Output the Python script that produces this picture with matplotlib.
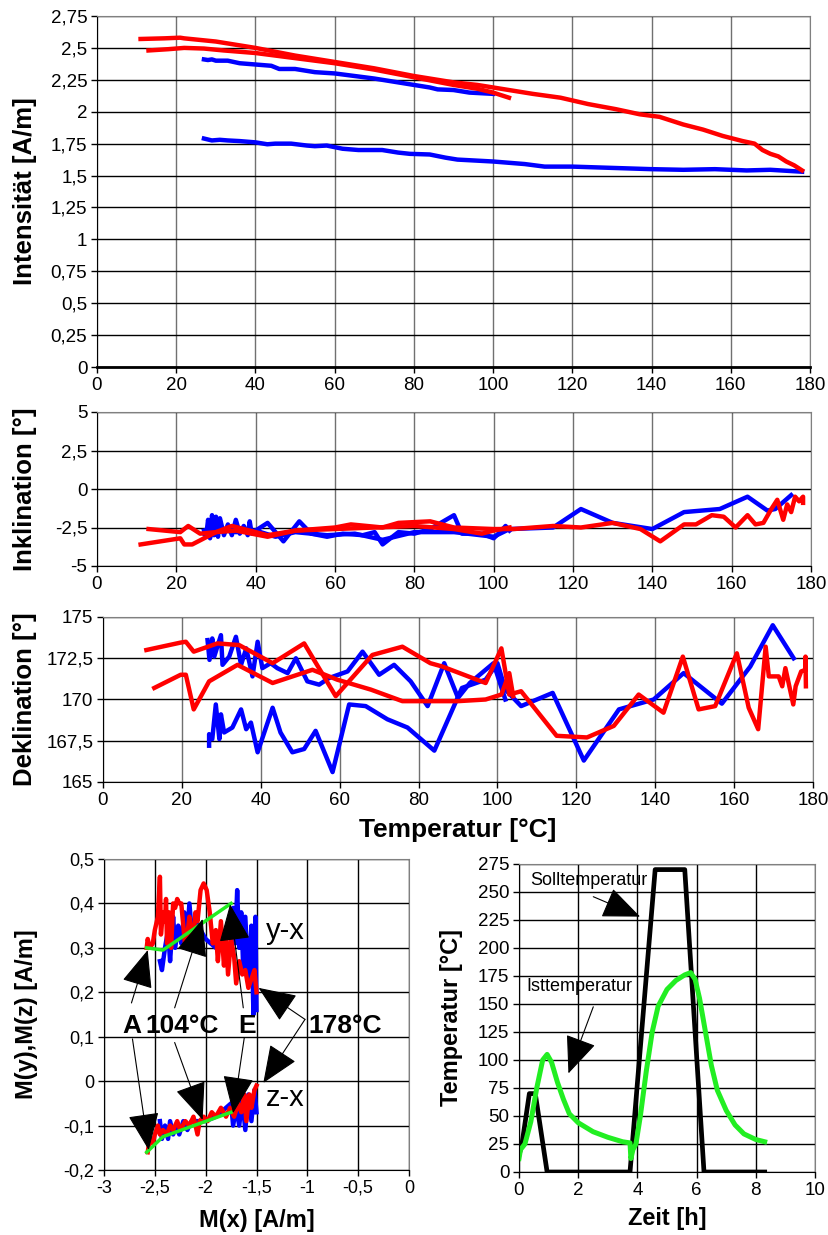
import matplotlib
matplotlib.use("Agg")
import matplotlib.pyplot as plt
from matplotlib.ticker import FuncFormatter, MultipleLocator

# ---- Intensitaet vs Temperatur ----
int_red_a_t = [11, 17, 21, 22, 30, 40, 50, 60, 70, 80, 90, 96, 100, 110, 117, 124, 131, 137,
               142, 148, 153, 158, 163, 166, 168, 170, 172, 174, 176, 178]
int_red_a = [2.57, 2.575, 2.58, 2.575, 2.55, 2.5, 2.44, 2.39, 2.34, 2.28, 2.23, 2.21, 2.19, 2.14,
             2.11, 2.06, 2.02, 1.98, 1.96, 1.9, 1.86, 1.81, 1.77, 1.75, 1.70, 1.67, 1.65, 1.61,
             1.58, 1.54]
int_red_b_t = [13, 18, 22, 27, 32, 40, 50, 60, 70, 80, 90, 96, 100, 104]
int_red_b = [2.48, 2.49, 2.50, 2.495, 2.48, 2.46, 2.42, 2.38, 2.33, 2.27, 2.21, 2.18, 2.15, 2.11]
int_blue_a_t = [27, 28, 29, 30, 33, 36, 40, 44, 46, 50, 53, 55, 60, 65, 70, 74, 80, 84, 86, 90,
                94, 100]
int_blue_a = [2.41, 2.405, 2.41, 2.4, 2.4, 2.38, 2.37, 2.36, 2.335, 2.335, 2.32, 2.31, 2.30, 2.28,
              2.26, 2.24, 2.21, 2.19, 2.175, 2.17, 2.15, 2.14]
int_blue_b_t = [27, 29, 31, 33, 36, 40, 43, 45, 49, 53, 55, 58, 62, 66, 72, 76, 79, 84, 88, 91,
                100, 108, 113, 120, 130, 140, 148, 156, 164, 170, 178]
int_blue_b = [1.79, 1.775, 1.78, 1.775, 1.77, 1.76, 1.745, 1.75, 1.75, 1.735, 1.73, 1.735, 1.71,
              1.70, 1.70, 1.68, 1.67, 1.665, 1.64, 1.625, 1.61, 1.59, 1.57, 1.57, 1.56, 1.55,
              1.545, 1.55, 1.54, 1.545, 1.53]

# ---- Inklination ----
ink_red_a_t = [11, 16, 21, 22, 24, 27, 30, 35, 43, 50, 60, 64, 72, 76, 84, 90, 100, 105, 115,
               122, 130, 137, 142, 148, 151, 155, 158, 161, 164, 166, 168, 170, 171.5, 173, 174,
               175, 176, 177, 178, 178]
ink_red_a = [-3.6, -3.4, -3.2, -3.6, -3.6, -3.2, -2.8, -2.7, -3.1, -2.7, -2.5, -2.3, -2.5, -2.2,
             -2.1, -2.5, -2.6, -2.6, -2.4, -2.5, -2.2, -2.6, -3.4, -2.3, -2.3, -1.7, -1.8, -2.5,
             -1.7, -2.3, -2.2, -1.3, -0.7, -2.0, -1.0, -1.5, -0.5, -0.8, -0.5, -0.9]
ink_red_b_t = [13, 21, 23, 26, 30, 34, 40, 43, 50, 60, 70, 80, 90, 97, 100, 104]
ink_red_b = [-2.6, -2.8, -2.4, -2.9, -2.8, -2.4, -2.8, -3.0, -2.7, -2.6, -2.5, -2.4, -2.6, -2.9,
             -2.7, -2.5]
ink_blue_a_t = [27, 27.5, 28, 28.5, 29, 29.5, 30, 30.5, 31, 32, 33, 34, 35, 36, 37, 38, 38.5,
                39, 40, 43, 47, 51, 54, 58, 62, 67, 70, 72, 76, 80, 84, 90, 92, 97, 100, 102,
                103, 104]
ink_blue_a = [-2.7, -3.1, -2.0, -3.2, -1.7, -3.0, -1.8, -3.1, -1.9, -3.0, -2.3, -3.0, -2.0, -2.9,
              -2.4, -3.0, -2.1, -2.9, -2.7, -2.2, -3.4, -2.1, -2.9, -3.1, -2.9, -3.0, -2.8, -3.6,
              -2.8, -2.9, -2.6, -1.7, -2.9, -2.9, -3.2, -2.7, -2.4, -2.7]
ink_blue_b_t = [27, 30, 35, 40, 45, 50, 58, 65, 72, 80, 90, 100, 104, 115, 122, 130, 140, 148,
                157, 164, 169, 171, 175]
ink_blue_b = [-2.9, -2.6, -2.8, -2.7, -3.1, -2.8, -3.0, -2.9, -3.3, -2.8, -2.8, -3.1, -2.6, -2.5,
              -1.3, -2.2, -2.6, -1.5, -1.3, -0.5, -1.4, -1.3, -0.4]

# ---- Deklination ----
dek_red_a_t = [11, 19.7, 21, 23, 29, 34.5, 43, 51, 59, 68.3, 75.9, 83, 86, 97, 101, 103, 106,
               115, 122.7, 129.5, 135.8, 142.1, 147, 151, 155.2, 160.7, 163.7, 166.1, 168,
               168.8, 171.3, 172.2, 173, 175, 175.6, 177, 178.1, 178.1, 178.2]
dek_red_a = [173.0, 173.45, 173.5, 172.9, 173.4, 173.3, 172.2, 173.4, 170.2, 172.7, 173.2, 172.2,
             172.0, 171.0, 173.1, 170.3, 170.5, 167.8, 167.7, 168.4, 170.3, 169.2, 172.6, 169.4,
             169.6, 172.8, 169.5, 168.2, 173.2, 171.4, 171.4, 170.8, 171.9, 169.7, 170.8, 171.7,
             171.8, 172.6, 170.8]
dek_red_b_t = [13, 19.7, 21, 23, 26.9, 34.1, 43, 53.1, 59.4, 67.9, 75.9, 81.8, 90, 97, 101,
               103, 104]
dek_red_b = [170.7, 171.5, 171.5, 169.4, 171.1, 172.1, 171.0, 171.8, 171.2, 170.6, 169.9, 169.9,
             169.9, 170.0, 170.3, 171.6, 170.2]
dek_blue_a_t = [26.5, 27, 27.7, 28.2, 29.9, 30.3, 32, 33.7, 35, 36.3, 37.9, 39.2, 40.4, 42.5,
                44.2, 46.8, 48.9, 51.8, 54.8, 57.3, 62, 65.8, 70, 73.8, 78, 82.3, 86.5, 90, 93,
                99, 102]
dek_blue_a = [173.6, 172.4, 173.7, 172.6, 173.9, 172.1, 172.6, 173.8, 172.1, 173.1, 171.4, 173.5,
              171.9, 172.2, 171.9, 171.6, 172.5, 171.1, 170.9, 171.3, 171.7, 172.9, 171.5, 172.1,
              171.1, 169.6, 172.2, 170.1, 171.0, 172.2, 170.0]
dek_blue_b_t = [26.9, 26.9, 27.7, 28.6, 29.5, 29.9, 30.7, 32.8, 35, 36.3, 37.5, 39.2, 43, 45, 48,
                51, 53.9, 58.2, 62.4, 66.6, 72.1, 77.2, 84, 91, 97, 100, 102, 106, 114, 121.9,
                130.8, 139.6, 147.2, 156.9, 164.1, 169.8, 175.1]
dek_blue_b = [167.2, 167.9, 167.6, 169.7, 167.6, 169.1, 168.0, 168.3, 169.4, 168.2, 168.6, 166.8,
              169.5, 168.0, 166.8, 167.0, 168.1, 165.6, 169.7, 169.6, 168.8, 168.3, 166.9, 170.7,
              171.2, 172.2, 170.6, 169.6, 170.4, 166.3, 169.4, 170.0, 171.6, 169.75, 172.0,
              174.5, 172.5]

# ---- M(y), M(z) vs M(x) ----
yx_blue_x = [-2.45, -2.43, -2.40, -2.37, -2.35, -2.32, -2.30, -2.27, -2.24, -2.21, -2.19, -2.16,
             -2.13, -2.10, -2.0, -1.9, -1.8, -1.75, -1.73, -1.71, -1.69, -1.67, -1.65, -1.63,
             -1.61, -1.58, -1.55, -1.53, -1.51, -1.50]
yx_blue_y = [0.27, 0.25, 0.30, 0.34, 0.27, 0.37, 0.30, 0.35, 0.31, 0.38, 0.30, 0.40, 0.32, 0.36,
             0.32, 0.30, 0.34, 0.37, 0.39, 0.31, 0.43, 0.30, 0.38, 0.25, 0.37, 0.22, 0.35, 0.15,
             0.37, 0.16]
yx_red_x = [-2.58, -2.57, -2.55, -2.52, -2.50, -2.47, -2.45, -2.44, -2.42, -2.40, -2.39, -2.38,
            -2.36, -2.34, -2.32, -2.30, -2.28, -2.26, -2.24, -2.22, -2.20, -2.18, -2.16, -2.13,
            -2.10, -2.08, -2.05, -2.02, -1.99, -1.96, -1.93, -1.90, -1.88, -1.85, -1.82, -1.80,
            -1.78, -1.75, -1.72, -1.70, -1.67, -1.64, -1.61, -1.58, -1.55, -1.52, -1.50]
yx_red_y = [0.30, 0.32, 0.30, 0.31, 0.34, 0.37, 0.46, 0.33, 0.38, 0.36, 0.41, 0.31, 0.38, 0.30,
            0.40, 0.39, 0.41, 0.40, 0.40, 0.35, 0.30, 0.33, 0.37, 0.30, 0.38, 0.36, 0.43, 0.445,
            0.43, 0.38, 0.31, 0.34, 0.27, 0.36, 0.26, 0.33, 0.24, 0.32, 0.28, 0.22, 0.27, 0.24,
            0.25, 0.21, 0.23, 0.25, 0.20]
zx_blue_x = [-2.45, -2.43, -2.40, -2.37, -2.35, -2.32, -2.29, -2.26, -2.22, -2.18, -2.14, -2.0,
             -1.9, -1.75, -1.73, -1.70, -1.67, -1.64, -1.61, -1.58, -1.55, -1.52, -1.50]
zx_blue_y = [-0.09, -0.13, -0.10, -0.13, -0.09, -0.12, -0.10, -0.12, -0.09, -0.11, -0.09, -0.09,
             -0.08, -0.05, -0.10, -0.06, -0.10, -0.04, -0.11, -0.03, -0.09, -0.02, -0.07]
zx_red_x = [-2.57, -2.55, -2.52, -2.50, -2.47, -2.45, -2.42, -2.38, -2.35, -2.32, -2.28, -2.25,
            -2.20, -2.16, -2.12, -2.08, -2.06, -2.02, -1.98, -1.94, -1.90, -1.85, -1.80, -1.76,
            -1.72, -1.68, -1.65, -1.62, -1.60, -1.57, -1.55, -1.52, -1.50]
zx_red_y = [-0.16, -0.13, -0.14, -0.12, -0.10, -0.12, -0.11, -0.12, -0.10, -0.11, -0.09, -0.11,
            -0.09, -0.10, -0.08, -0.12, -0.09, -0.08, -0.09, -0.07, -0.08, -0.06, -0.08, -0.06,
            -0.08, -0.05, -0.07, -0.03, -0.09, -0.03, -0.06, -0.02, -0.01]
yx_green_x = [-2.58, -2.42, -1.75]
yx_green_y = [0.30, 0.295, 0.40]
zx_green_x = [-2.58, -2.42, -1.75]
zx_green_y = [-0.16, -0.125, -0.07]

# ---- Temperaturverlauf ----
soll_h = [0, 0.1, 0.35, 0.55, 0.95, 3.75, 4.6, 5.6, 6.25, 8.3]
soll_t = [15, 25, 70, 70, 0, 0, 270, 270, 0, 0]
ist_h = [0, 0.05, 0.2, 0.4, 0.6, 0.8, 0.95, 1.1, 1.3, 1.5, 1.7, 2.0, 2.5, 3.0, 3.5, 3.75, 3.78,
         3.85, 3.95, 4.1, 4.3, 4.5, 4.7, 5.0, 5.3, 5.6, 5.8, 5.95, 6.1, 6.3, 6.5, 6.7, 7.0, 7.3,
         7.6, 8.0, 8.3]
ist_t = [12, 20, 25, 45, 75, 100, 105, 98, 80, 65, 52, 44, 36, 31, 27, 26, 12, 20, 25, 50, 90,
         125, 148, 163, 171, 176, 178, 172, 155, 125, 95, 73, 55, 42, 34, 29, 27]

BLUE, RED, GREEN = "#0000ff", "#ff0000", "#22ee22"
NARROW = ["Liberation Sans Narrow", "Liberation Sans", "DejaVu Sans"]
ARIAL = ["Liberation Sans", "DejaVu Sans"]


def comma(v, pos):
    return f"{v:g}".replace(".", ",")


def style(ax, tickfont, fs, vgrid="#707070"):
    ax.xaxis.grid(True, color=vgrid, lw=1.0)
    ax.yaxis.grid(True, color="black", lw=1.0)
    ax.set_axisbelow(True)
    ax.xaxis.set_major_formatter(FuncFormatter(comma))
    ax.yaxis.set_major_formatter(FuncFormatter(comma))
    ax.tick_params(direction="out", length=4, width=1, pad=3)
    for lab in ax.get_xticklabels() + ax.get_yticklabels():
        lab.set_fontfamily(tickfont)
        lab.set_fontsize(fs)
    for sp in ax.spines.values():
        sp.set_color("#808080")
    ax.spines["left"].set_color("black")
    ax.spines["bottom"].set_color("black")


fig = plt.figure(figsize=(8.29, 12.35), dpi=100)
W, H = 829.0, 1235.0


def box(l, r, t, b):
    return [l / W, 1 - b / H, (r - l) / W, (b - t) / H]


lw = 3.2
arrow_style = "-|>,head_length=1.2,head_width=0.5"

# Intensitaet
ax1 = fig.add_axes(box(97, 810, 16, 367))
ax1.plot(int_blue_a_t, int_blue_a, color=BLUE, lw=lw)
ax1.plot(int_blue_b_t, int_blue_b, color=BLUE, lw=lw)
ax1.plot(int_red_a_t, int_red_a, color=RED, lw=lw)
ax1.plot(int_red_b_t, int_red_b, color=RED, lw=lw)
ax1.set_xlim(0, 180)
ax1.set_ylim(0, 2.75)
ax1.xaxis.set_major_locator(MultipleLocator(20))
ax1.yaxis.set_major_locator(MultipleLocator(0.25))
style(ax1, NARROW, 13.5)
ax1.spines["bottom"].set_linewidth(2)
ax1.set_ylabel("Intensität [A/m]", fontsize=18.5, fontweight="bold", family=ARIAL)
ax1.yaxis.set_label_coords(-0.084, 0.5)

# Inklination
ax2 = fig.add_axes(box(97, 811, 412, 566))
ax2.plot(ink_blue_b_t, ink_blue_b, color=BLUE, lw=lw)
ax2.plot(ink_blue_a_t, ink_blue_a, color=BLUE, lw=lw)
ax2.plot(ink_red_b_t, ink_red_b, color=RED, lw=lw)
ax2.plot(ink_red_a_t, ink_red_a, color=RED, lw=lw)
ax2.set_xlim(0, 180)
ax2.set_ylim(-5, 5)
ax2.xaxis.set_major_locator(MultipleLocator(20))
ax2.yaxis.set_major_locator(MultipleLocator(2.5))
style(ax2, NARROW, 13.5)
ax2.set_ylabel("Inklination [°]", fontsize=18.5, fontweight="bold", family=ARIAL)
ax2.yaxis.set_label_coords(-0.084, 0.5)

# Deklination
ax3 = fig.add_axes(box(103, 813, 617, 782))
ax3.plot(dek_blue_a_t, dek_blue_a, color=BLUE, lw=lw)
ax3.plot(dek_blue_b_t, dek_blue_b, color=BLUE, lw=lw)
ax3.plot(dek_red_b_t, dek_red_b, color=RED, lw=lw)
ax3.plot(dek_red_a_t, dek_red_a, color=RED, lw=lw)
ax3.set_xlim(0, 180)
ax3.set_ylim(165, 175)
ax3.xaxis.set_major_locator(MultipleLocator(20))
ax3.yaxis.set_major_locator(MultipleLocator(2.5))
style(ax3, NARROW, 13.5)
ax3.set_ylabel("Deklination [°]", fontsize=18.5, fontweight="bold", family=ARIAL)
ax3.yaxis.set_label_coords(-0.093, 0.5)
ax3.set_xlabel("Temperatur [°C]", fontsize=19, fontweight="bold", family=ARIAL)
ax3.xaxis.set_label_coords(0.5, -0.22)

# M(y),M(z) vs M(x)
ax4 = fig.add_axes(box(104, 409, 859, 1170))
ax4.plot(yx_blue_x, yx_blue_y, color=BLUE, lw=lw)
ax4.plot(yx_red_x, yx_red_y, color=RED, lw=lw)
ax4.plot(zx_blue_x, zx_blue_y, color=BLUE, lw=lw)
ax4.plot(zx_red_x, zx_red_y, color=RED, lw=lw)
ax4.plot(yx_green_x, yx_green_y, color=GREEN, lw=2.5)
ax4.plot(zx_green_x, zx_green_y, color=GREEN, lw=2.5)
ax4.set_xlim(-3, 0)
ax4.set_ylim(-0.2, 0.5)
ax4.xaxis.set_major_locator(MultipleLocator(0.5))
ax4.yaxis.set_major_locator(MultipleLocator(0.1))
style(ax4, ARIAL, 13, vgrid="black")
ax4.set_ylabel("M(y),M(z) [A/m]", fontsize=17, fontweight="bold", family=ARIAL)
ax4.yaxis.set_label_coords(-0.216, 0.5)
ax4.set_xlabel("M(x) [A/m]", fontsize=17, fontweight="bold", family=ARIAL)
ax4.xaxis.set_label_coords(0.5, -0.125)

ax4.text(-1.22, 0.338, "y-x", fontsize=21, ha="center", va="center", family=ARIAL)
ax4.text(-1.22, -0.038, "z-x", fontsize=21, ha="center", va="center", family=ARIAL)
ann = [("A", -2.73, [(-2.73, 0.176, -2.57, 0.295), (-2.72, 0.095, -2.56, -0.155)]),
       ("104°C", -2.236, [(-2.305, 0.165, -2.03, 0.365), (-2.305, 0.087, -2.03, -0.087)]),
       ("E", -1.596, [(-1.63, 0.165, -1.76, 0.398), (-1.62, 0.098, -1.73, -0.072)]),
       ("178°C", -0.63, [(-1.023, 0.139, -1.48, 0.21), (-1.023, 0.139, -1.433, -0.004)])]
for label, lx, arrows in ann:
    ax4.text(lx, 0.124, label, fontsize=19, fontweight="bold", ha="center", va="center",
             family=ARIAL)
    for x0, y0, x1, y1 in arrows:
        ax4.annotate("", xy=(x1, y1), xytext=(x0, y0),
                     arrowprops=dict(arrowstyle=arrow_style, color="black", lw=0.8,
                                     mutation_scale=20, shrinkA=0, shrinkB=0))

# Temperatur vs Zeit
ax5 = fig.add_axes(box(519, 815, 864, 1172))
ax5.plot(soll_h, soll_t, color="black", lw=3.4)
ax5.plot(ist_h, ist_t, color=GREEN, lw=3.6)
ax5.set_xlim(0, 10)
ax5.set_ylim(0, 275)
ax5.xaxis.set_major_locator(MultipleLocator(2))
ax5.yaxis.set_major_locator(MultipleLocator(25))
style(ax5, ARIAL, 13.5, vgrid="black")
ax5.set_ylabel("Temperatur [°C]", fontsize=17, fontweight="bold", family=ARIAL)
ax5.yaxis.set_label_coords(-0.189, 0.5)
ax5.set_xlabel("Zeit [h]", fontsize=17, fontweight="bold", family=ARIAL)
ax5.xaxis.set_label_coords(0.5, -0.115)
ax5.text(0.37, 260.7, "Solltemperatur", fontsize=13, va="center", family=ARIAL)
ax5.text(0.24, 165.4, "Isttemperatur", fontsize=13, va="center", family=ARIAL)
for x0, y0, x1, y1 in [(2.51, 245.8, 4.09, 228), (2.51, 147.5, 1.67, 88)]:
    ax5.annotate("", xy=(x1, y1), xytext=(x0, y0),
                 arrowprops=dict(arrowstyle=arrow_style, color="black", lw=0.8,
                                 mutation_scale=20, shrinkA=0, shrinkB=0))

fig.savefig("out.png", dpi=100)
